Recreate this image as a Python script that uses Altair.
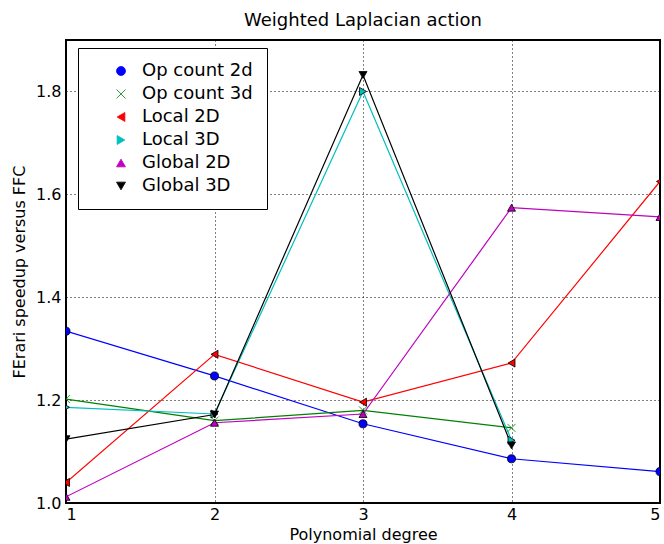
import altair as alt
import pandas as pd

series = ["Op count 2d", "Op count 3d", "Local 2D", "Local 3D", "Global 2D", "Global 3D"]
degrees = [1, 2, 3, 4, 5]
op_count_2d = [1.334, 1.247, 1.154, 1.086, 1.061]
op_count_3d = [1.202, 1.160, 1.180, 1.146]
local_2d = [1.040, 1.289, 1.196, 1.272, 1.625]
local_3d = [1.186, 1.173, 1.800, 1.122]
global_2d = [1.012, 1.156, 1.173, 1.574, 1.556]
global_3d = [1.124, 1.172, 1.832, 1.112]

colors = ["#0000ff", "#008000", "#ff0000", "#00bfbf", "#bf00bf", "#000000"]
edges = ["#000000", "#008000", "#000000", "#000000", "#000000", "#000000"]
shapes = ["circle", "M-1,-1L1,1M-1,1L1,-1", "triangle-left", "triangle-right",
          "triangle-up", "triangle-down"]

rows = []
for name, vals in zip(series, [op_count_2d, op_count_3d, local_2d, local_3d, global_2d, global_3d]):
    for d, v in zip(degrees, vals):
        rows.append({"series": name, "degree": d, "speedup": v})
df = pd.DataFrame(rows)

font = "DejaVu Sans"
x = alt.X("degree:Q", title="Polynomial degree",
          scale=alt.Scale(domain=[1, 5], nice=False, zero=False),
          axis=alt.Axis(values=[1, 2, 3, 4, 5], format="d", grid=True, gridColor="black",
                        gridDash=[1, 3], gridOpacity=1, gridWidth=1, tickSize=0,
                        labelPadding=3, titlePadding=4, domain=False))
y = alt.Y("speedup:Q", title="FErari speedup versus FFC",
          scale=alt.Scale(domain=[1.0, 1.9], nice=False, zero=False),
          axis=alt.Axis(values=[1.0, 1.2, 1.4, 1.6, 1.8], format=".1f", grid=True,
                        gridColor="black", gridDash=[1, 3], gridOpacity=1, gridWidth=1,
                        tickSize=0, labelPadding=5, titlePadding=8, domain=False))

color_scale = alt.Scale(domain=series, range=colors)
legend = alt.Legend(title=None, orient="none", legendX=12, legendY=8, fillColor="white",
                    strokeColor="black", padding=14, labelFontSize=18, labelFont=font,
                    labelLimit=300, symbolSize=80, rowPadding=5, labelOffset=12,
                    symbolOffset=20, symbolStrokeWidth=0.8)

lines = alt.Chart(df).mark_line(strokeWidth=1.2, clip=True).encode(
    x=x, y=y,
    color=alt.Color("series:N", scale=color_scale, legend=legend),
    order="degree:Q",
)

points = alt.Chart(df).mark_point(filled=True, size=65, strokeWidth=0.8, opacity=1,
                                  clip=True).encode(
    x=x, y=y,
    color=alt.Color("series:N", scale=color_scale, legend=legend),
    shape=alt.Shape("series:N", scale=alt.Scale(domain=series, range=shapes), legend=legend),
    stroke=alt.Stroke("series:N", scale=alt.Scale(domain=series, range=edges), legend=legend),
)

chart = alt.layer(lines, points).properties(
    width=594, height=463,
    title=alt.Title("Weighted Laplacian action", font=font, fontSize=18,
                    fontWeight="normal", offset=10),
    autosize=alt.AutoSizeParams(type="none"),
    padding={"left": 66, "top": 40, "right": 4, "bottom": 41},
).configure(background="white").configure_view(
    stroke="black", strokeWidth=2
).configure_axis(
    labelFont=font, labelFontSize=16, titleFont=font, titleFontSize=16,
    titleFontWeight="normal", labelColor="black", titleColor="black"
)

chart.save("out.html", embed_options={"renderer": "svg", "actions": False})
